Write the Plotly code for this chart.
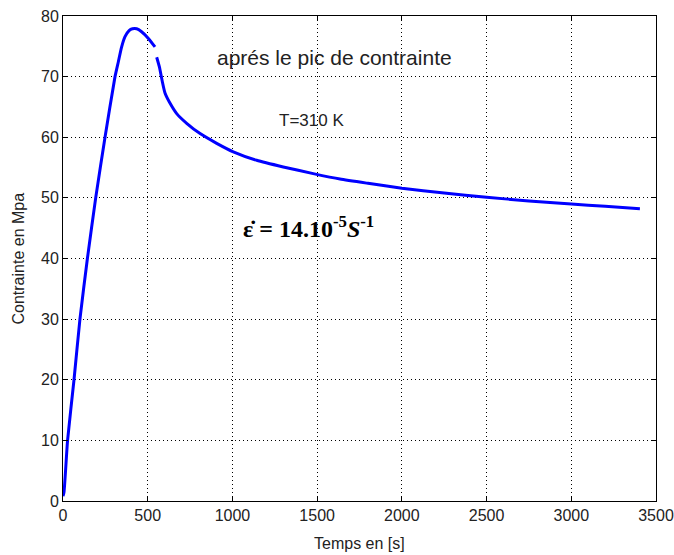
import plotly.graph_objects as go

# Loading ramp up to the stress peak (time in s, stress in MPa)
t_rise = [0, 6, 27, 65, 100, 144, 193, 248, 307, 327, 345, 366, 390, 410, 435, 464, 504, 543]
s_rise = [0.8, 1.5, 10, 20, 30, 40, 50, 60, 70, 72.5, 74.8, 76.6, 77.6, 77.9, 77.9, 77.4, 76.3, 74.9]

# Relaxation after the peak
t_relax = [553, 569, 586, 602, 632, 671, 730, 809, 907, 1005, 1143, 1300, 1477, 1635,
           1800, 2000, 2250, 2500, 2750, 3000, 3200, 3405]
s_relax = [73.2, 71.6, 69.2, 67.3, 65.6, 63.9, 62.3, 60.6, 59.0, 57.6, 56.2, 55.1, 54.0, 53.1,
           52.4, 51.6, 50.8, 50.1, 49.5, 49.0, 48.6, 48.2]

x_ticks = [0, 500, 1000, 1500, 2000, 2500, 3000, 3500]
y_ticks = [0, 10, 20, 30, 40, 50, 60, 70, 80]

line_style = dict(color="#0000FF", width=3, shape="spline", smoothing=0.5)
text_color = "#222222"

fig = go.Figure()
fig.add_trace(go.Scatter(x=t_rise, y=s_rise, mode="lines", line=line_style, showlegend=False))
fig.add_trace(go.Scatter(x=t_relax, y=s_relax, mode="lines", line=line_style, showlegend=False))

axis_common = dict(
    showline=True, linecolor="black", linewidth=1, mirror="ticks",
    ticks="inside", ticklen=5, tickcolor="black",
    showgrid=True, gridcolor="black", gridwidth=1, griddash="1px,3px",
    zeroline=False, automargin=False,
    tickfont=dict(family="Liberation Sans", size=16, color=text_color),
)

fig.update_xaxes(range=[0, 3500], tickvals=x_ticks, **axis_common)
fig.update_yaxes(range=[0, 80], tickvals=y_ticks, **axis_common)

# Axis titles placed relative to the plot frame
fig.add_annotation(xref="paper", yref="paper", x=0.5, y=0, yshift=-42,
                   text="Temps en [s]", showarrow=False, yanchor="middle",
                   font=dict(family="Liberation Sans", size=16, color=text_color))
fig.add_annotation(xref="paper", yref="paper", x=0, y=0.5, xshift=-45,
                   text="Contrainte en Mpa", showarrow=False, textangle=-90,
                   xanchor="center",
                   font=dict(family="Liberation Sans", size=16, color=text_color))

fig.add_annotation(x=1605, y=73.2, text="aprés le pic de contrainte", showarrow=False,
                   font=dict(family="Liberation Sans", size=21, color=text_color))
fig.add_annotation(x=1465, y=62.7, text="T=310 K", showarrow=False,
                   font=dict(family="Liberation Sans", size=17, color=text_color))
fig.add_annotation(x=1050, y=45.2, xanchor="left",
                   text="<b>ε̇ = 14.10<sup>-5</sup><i>S</i><sup>-1</sup></b>",
                   showarrow=False,
                   font=dict(family="Liberation Serif", size=24, color="black"))

fig.update_layout(
    width=674, height=555,
    margin=dict(l=63, r=18, t=16, b=54),
    paper_bgcolor="white", plot_bgcolor="white",
)

fig.write_html("out.html")
